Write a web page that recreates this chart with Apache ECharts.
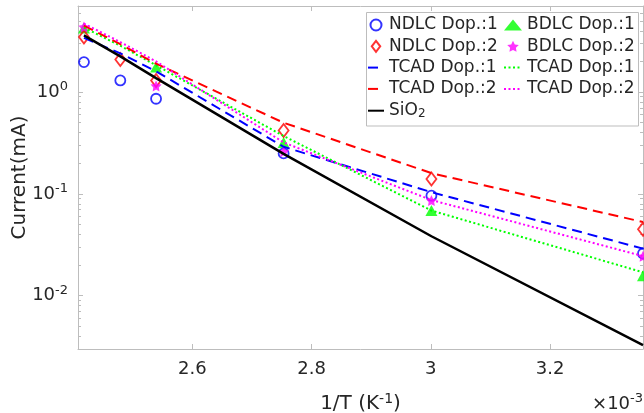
<!DOCTYPE html>
<html>
<head>
<meta charset="utf-8">
<script src="https://cdn.jsdelivr.net/npm/echarts@6/dist/echarts.min.js"></script>
<style>
  html, body { margin: 0; padding: 0; background: #ffffff; }
  #chart { width: 644px; height: 413px; }
</style>
</head>
<body>
<div id="chart"></div>
<script>
// 1/T in units of 1e-3 K^-1 (T ≈ 413, 403, 393, 363, 333, 298 K)
const invT = [2.418, 2.479, 2.539, 2.753, 3.001, 3.356];

// measured currents (mA); null = no measurement at that temperature
const ndlc1 = [1.97, 1.30, 0.86, 0.25, 0.096, 0.026];
const ndlc2 = [3.47, 2.09, 1.30, 0.42, 0.14, 0.045];
const bdlc1 = [4.25, null, 1.76, 0.32, 0.0686, 0.0157];
const bdlc2 = [4.36, null, 1.15, 0.26, 0.086, 0.0244];

// simulated currents (mA)
const tcadN1 = [3.4, 2.4, 1.6, 0.29, 0.104, 0.029];
const tcadN2 = [4.5, 2.95, 1.9, 0.5, 0.16, 0.053];
const tcadB1 = [4.3, 2.85, 1.83, 0.37, 0.0686, 0.017];
const tcadB2 = [4.7, 3.1, 2.0, 0.32, 0.087, 0.0245];
const sio2   = [3.6, 2.24, 1.37, 0.247, 0.0384, 0.00327];

// axis ticks
const xTicks = [2.6, 2.8, 3.0, 3.2];
const xTickLabels = ['2.6', '2.8', '3', '3.2'];
const yMajor = [0.01, 0.1, 1];
const yMajorExp = ['-2', '-1', '0'];
const xRange = [2.408, 3.356];
const yRange = [0.003, 7];

const yMinor = [];
for (let e = -3; e <= 0; e++) {
  for (let k = 2; k <= 9; k++) {
    const v = k * Math.pow(10, e);
    if (v > yRange[0] * 1.0001 && v < yRange[1] * 0.9999) yMinor.push(v);
  }
}

const FONT = 'DejaVu Sans';
const TXT = '#262626';
const AX = '#bdbdbd';

function pairs(ys) {
  const out = [];
  ys.forEach((y, i) => { if (y !== null) out.push([invT[i], y]); });
  return out;
}

const starPath = 'path://M0,-10L2.94,-4.05L9.51,-3.09L4.76,1.55L5.88,8.09L0,5L-5.88,8.09L-4.76,1.55L-9.51,-3.09L-2.94,-4.05Z';
const diamondPath = 'path://M0,-6.5L5,0L0,6.5L-5,0Z';

const legendLabel = {
  'NDLC Dop.:1': 'NDLC Dop.:1',
  'NDLC Dop.:2': 'NDLC Dop.:2',
  'BDLC Dop.:1': 'BDLC Dop.:1',
  'BDLC Dop.:2': 'BDLC Dop.:2',
  'TCAD N1': 'TCAD Dop.:1',
  'TCAD N2': 'TCAD Dop.:2',
  'TCAD B1': 'TCAD Dop.:1',
  'TCAD B2': 'TCAD Dop.:2',
  'SiO2': 'SiO{sub|2}'
};

const legendText = {
  fontFamily: FONT, fontSize: 17, color: TXT, lineHeight: 18,
  rich: { sub: { fontFamily: FONT, fontSize: 12, color: TXT, lineHeight: 12, padding: [7, 0, 0, 0] } }
};

function scatter(name, ys, symbol, size, color, open) {
  return {
    name, type: 'scatter', data: pairs(ys), symbol, symbolSize: size,
    itemStyle: open
      ? { color: 'rgba(255,255,255,0)', borderColor: color, borderWidth: 1.8 }
      : { color: color, borderWidth: 0 },
    silent: true
  };
}

function line(name, ys, color, dash, width) {
  return {
    name, type: 'line', data: pairs(ys), symbol: 'none', showSymbol: false,
    lineStyle: { color, width, type: dash }, itemStyle: { color },
    silent: true
  };
}

// legend entry: marker-only for measured series, line-only for simulated ones
function lineEntry(name) { return { name, itemStyle: { opacity: 0 } }; }

const yCommon = { type: 'log', logBase: 10, min: yRange[0], max: yRange[1], splitLine: { show: false } };
const xCommon = { type: 'value', min: xRange[0], max: xRange[1], splitLine: { show: false } };

const chart = echarts.init(document.getElementById('chart'), null, { renderer: 'canvas' });
chart.setOption({
  animation: false,
  backgroundColor: '#ffffff',
  grid: { left: 78, right: 1, top: 6, bottom: 64, containLabel: false, outerBoundsMode: 'none' },
  xAxis: [
    Object.assign({}, xCommon, {
      position: 'bottom',
      axisLine: { show: true, onZero: false, lineStyle: { color: AX, width: 1 } },
      axisTick: { show: true, inside: true, length: 5, customValues: xTicks, lineStyle: { color: AX } },
      axisLabel: {
        customValues: xTicks, margin: 11, fontFamily: FONT, fontSize: 18, color: TXT,
        formatter: (v) => xTickLabels[xTicks.findIndex(t => Math.abs(t - v) < 1e-9)]
      },
      name: '1/T (K{sup|-1})', nameLocation: 'middle', nameGap: 43, nameMoveOverlap: false,
      nameTextStyle: {
        fontFamily: FONT, fontSize: 20, color: TXT,
        rich: { sup: { fontFamily: FONT, fontSize: 14, color: TXT, padding: [0, 0, 10, 0] } }
      }
    }),
    Object.assign({}, xCommon, {
      position: 'top',
      axisLine: { show: true, onZero: false, lineStyle: { color: AX, width: 1 } },
      axisTick: { show: true, inside: true, length: 5, customValues: xTicks, lineStyle: { color: AX } },
      axisLabel: { show: false }
    })
  ],
  yAxis: [
    Object.assign({}, yCommon, {
      position: 'left',
      axisLine: { show: true, onZero: false, lineStyle: { color: AX, width: 1 } },
      axisTick: { show: true, inside: true, length: 5, customValues: yMajor, lineStyle: { color: AX } },
      axisLabel: {
        customValues: yMajor, margin: 10, fontFamily: FONT, fontSize: 18, color: TXT,
        formatter: (v) => '10{sup|' + yMajorExp[yMajor.findIndex(t => Math.abs(t - v) / t < 1e-6)] + '}',
        rich: { sup: { fontFamily: FONT, fontSize: 13, color: TXT, padding: [0, 0, 10, 0] } }
      },
      name: 'Current(mA)', nameLocation: 'middle', nameGap: 48, nameMoveOverlap: false,
      nameTextStyle: { fontFamily: FONT, fontSize: 20, color: TXT }
    }),
    Object.assign({}, yCommon, {
      position: 'left',
      axisLine: { show: false },
      axisTick: { show: true, inside: true, length: 3, customValues: yMinor, lineStyle: { color: AX } },
      axisLabel: { show: false }
    }),
    Object.assign({}, yCommon, {
      position: 'right',
      axisLine: { show: true, onZero: false, lineStyle: { color: AX, width: 1 } },
      axisTick: { show: true, inside: true, length: 5, customValues: yMajor, lineStyle: { color: AX } },
      axisLabel: { show: false }
    }),
    Object.assign({}, yCommon, {
      position: 'right',
      axisLine: { show: false },
      axisTick: { show: true, inside: true, length: 3, customValues: yMinor, lineStyle: { color: AX } },
      axisLabel: { show: false }
    })
  ],
  legend: [
    {
      left: 367, top: 16, orient: 'vertical', padding: 0, itemGap: 3.3,
      itemWidth: 16, itemHeight: 11, z: 10,
      data: ['NDLC Dop.:1', { name: 'NDLC Dop.:2', icon: diamondPath }, lineEntry('TCAD N1'), lineEntry('TCAD N2'), lineEntry('SiO2')],
      formatter: (n) => legendLabel[n], textStyle: legendText, selectedMode: false
    },
    {
      left: 503, top: 16, orient: 'vertical', padding: 0, itemGap: 3.3,
      itemWidth: 18, itemHeight: 11, z: 10,
      data: ['BDLC Dop.:1', 'BDLC Dop.:2', lineEntry('TCAD B1'), lineEntry('TCAD B2')],
      formatter: (n) => legendLabel[n], textStyle: legendText, selectedMode: false
    }
  ],
  graphic: [
    {
      type: 'rect', z: 5,
      shape: { x: 366.5, y: 12.5, width: 272, height: 113.5 },
      style: { fill: '#ffffff', stroke: AX, lineWidth: 1 }
    },
    {
      type: 'text', z: 5, x: 643, y: 404,
      style: {
        text: '×10{sup|-3}', fontFamily: FONT, fontSize: 18, fill: TXT,
        align: 'right', verticalAlign: 'middle',
        rich: { sup: { fontFamily: FONT, fontSize: 13, fill: TXT, padding: [0, 0, 10, 0] } }
      }
    }
  ],
  series: [
    scatter('NDLC Dop.:1', ndlc1, 'circle', 10, '#0000ff', true),
    scatter('BDLC Dop.:1', bdlc1, 'triangle', [12, 11], '#00ff00', false),
    scatter('NDLC Dop.:2', ndlc2, 'diamond', [10, 13], '#ff0000', true),
    scatter('BDLC Dop.:2', bdlc2, starPath, 11, '#ff00ff', false),
    line('TCAD N1', tcadN1, '#0000ff', [10, 6], 2),
    line('TCAD B1', tcadB1, '#00ff00', [2, 2.5], 2),
    line('TCAD N2', tcadN2, '#ff0000', [10, 6], 2),
    line('TCAD B2', tcadB2, '#ff00ff', [2, 2.5], 2),
    line('SiO2', sio2, '#000000', 'solid', 2.5)
  ]
});
</script>
</body>
</html>
